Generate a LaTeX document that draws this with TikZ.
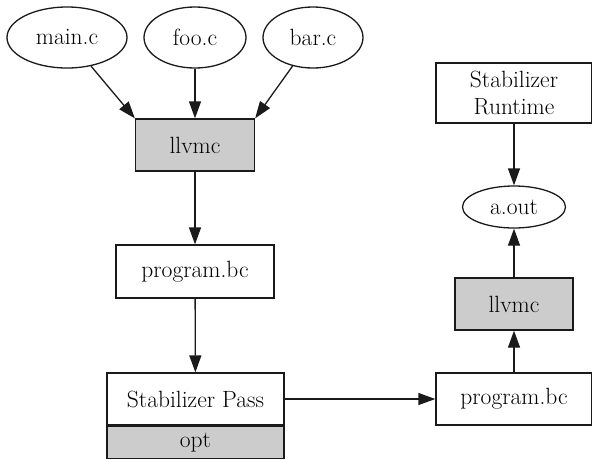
\documentclass[tikz,border=0pt]{standalone}
\usepackage{xcolor}
\usepackage{tikz}
\usetikzlibrary{arrows.meta, shapes.geometric}
\definecolor{Ink}{HTML}{1A1A1A}
\definecolor{Tool}{HTML}{CCCCCC}
\tikzset{
  file/.style={ellipse, draw=Ink, line width=1.3pt, inner sep=0pt, font=\fontsize{23.5}{27}\selectfont},
  box/.style={rectangle, draw=Ink, line width=1.3pt, inner sep=0pt, font=\fontsize{23.5}{27}\selectfont, align=center},
  tool/.style={box, fill=Tool},
  edge/.style={-{Triangle[length=17pt, width=12pt]}, line width=1.3pt, color=Ink},
}
\begin{document}
\begin{tikzpicture}[x=1pt, y=-1pt]
  \useasboundingbox (0,0) rectangle (592,459);
  % sources
  \node[file, minimum width=120pt, minimum height=61pt] (main) at (67,37.5) {main.c};
  \node[file, minimum width=102pt, minimum height=61pt] (foo) at (195,37.5) {foo.c};
  \node[file, minimum width=100pt, minimum height=61pt] (bar) at (313,37.5) {bar.c};

  % left column
  \node[tool, minimum width=119pt, minimum height=52pt] (llvmA) at (195,145) {llvmc};
  \node[box, minimum width=158pt, minimum height=53pt] (progA) at (195,271.5) {program.bc};
  \node[box, minimum width=177pt, minimum height=52pt] (pass) at (195.5,399) {Stabilizer Pass};
  \node[tool, minimum width=177pt, minimum height=32pt, anchor=north] (opt) at (pass.south) {opt};

  % right column
  \node[box, minimum width=156pt, minimum height=60pt] (runtime) at (514,93) {Stabilizer\\Runtime};
  \node[file, minimum width=103pt, minimum height=42pt] (aout) at (514,207) {a.out};
  \node[tool, minimum width=118pt, minimum height=52pt] (llvmB) at (514,304) {llvmc};
  \node[box, minimum width=156pt, minimum height=52pt] (progB) at (514,399) {program.bc};

  % edges
  \draw[edge] (main) -- (llvmA.north west);
  \draw[edge] (foo) -- (llvmA);
  \draw[edge] (bar) -- (llvmA.north east);
  \draw[edge] (llvmA) -- (progA);
  \draw[edge] (progA) -- (pass);
  \draw[edge] (pass) -- (progB);
  \draw[edge] (progB) -- (llvmB);
  \draw[edge] (llvmB) -- (aout);
  \draw[edge] (runtime) -- (aout);
\end{tikzpicture}
\end{document}
